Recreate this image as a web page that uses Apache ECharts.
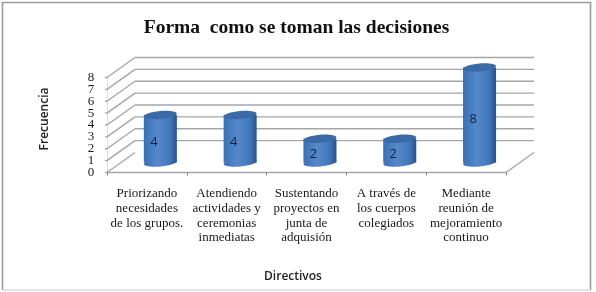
<!DOCTYPE html>
<html>
<head>
<meta charset="utf-8">
<style>html,body{margin:0;padding:0;background:#fff}#chart{width:596px;height:292px}</style>
<script src="https://cdn.jsdelivr.net/npm/echarts@6/dist/echarts.min.js"></script>
</head>
<body>
<div id="chart"></div>
<script>
const chartTitle = 'Forma  como se toman las decisiones';
const categories = [
  'Priorizando\nnecesidades\nde los grupos.',
  'Atendiendo\nactividades y\nceremonias\ninmediatas',
  'Sustentando\nproyectos en\njunta de\nadquisión',
  'A través de\nlos cuerpos\ncolegiados',
  'Mediante\nreunión de\nmejoramiento\ncontinuo'
];
const frequencies = [4, 4, 2, 2, 8];
const yTicks = [0, 1, 2, 3, 4, 5, 6, 7, 8];
const yAxisName = 'Frecuencia';
const xAxisName = 'Directivos';

// Pseudo-3D depth of the plot box, in pixels
const DEPTH_X = 28;
const DEPTH_Y = 20;
const GRID_COLOR = '#a6a6a6';

const chart = echarts.init(document.getElementById('chart'), null, { renderer: 'canvas' });

// One tick of the side and back walls, with its numeric label: the axis's own
// labels get thinned out at this spacing, so they are drawn here instead.
function renderWall(params, api) {
  const sys = params.coordSys;
  const value = api.value(0);
  const y = api.coord([0, value])[1];
  const x0 = sys.x, x1 = sys.x + sys.width;
  const line = (a, b, c, d) => ({
    type: 'line',
    shape: { x1: a, y1: b, x2: c, y2: d },
    style: { stroke: GRID_COLOR, lineWidth: 1.4 }
  });
  const children = [
    line(x0 - 2, y, x0, y),
    line(x0, y, x0 + DEPTH_X, y - DEPTH_Y),
    {
      type: 'text',
      style: {
        x: x0 - 16, y,
        text: String(value),
        fill: '#1a1a1a',
        font: '13px "Liberation Serif", serif',
        align: 'center', verticalAlign: 'middle'
      }
    }
  ];
  if (value > 0) {
    children.push(line(x0 + DEPTH_X, y - DEPTH_Y, x1 + DEPTH_X, y - DEPTH_Y));
  } else {
    children.push(line(x1, y, x1 + DEPTH_X, y - DEPTH_Y));
  }
  return { type: 'group', children };
}

function renderCylinder(params, api) {
  const top = api.coord([api.value(0), api.value(1)]);
  const base = api.coord([api.value(0), 0]);
  const mid = api.coord([api.value(0), api.value(1) / 2]);
  const halfW = api.size([1, 0])[0] * 0.207;
  const cx = top[0] + DEPTH_X * 0.48;
  const topY = top[1] - DEPTH_Y * 0.5;
  const baseY = base[1] - DEPTH_Y * 0.5;
  const ry = 4;
  const tilt = 0.09;
  const ellipse = (cy, fill) => ({
    type: 'ellipse',
    shape: { cx, cy, rx: halfW, ry },
    originX: cx, originY: cy, rotation: tilt,
    style: { fill }
  });
  const side = new echarts.graphic.LinearGradient(0, 0, 1, 0, [
    { offset: 0, color: '#3a70b4' },
    { offset: 0.4, color: '#5488cb' },
    { offset: 0.78, color: '#4278bb' },
    { offset: 1, color: '#27528a' }
  ]);
  return {
    type: 'group',
    children: [
      ellipse(baseY, side),
      {
        type: 'rect',
        shape: { x: cx - halfW, y: topY, width: halfW * 2, height: baseY - topY },
        style: { fill: side }
      },
      ellipse(topY, '#3a6ba6'),
      {
        type: 'text',
        style: {
          x: top[0] + 7, y: mid[1] - 6,
          text: String(api.value(1)),
          fill: '#14233a',
          font: '13px "Open Sans", sans-serif',
          align: 'center', verticalAlign: 'middle'
        }
      }
    ]
  };
}

chart.setOption({
  animation: false,
  backgroundColor: '#ffffff',
  title: {
    text: chartTitle,
    left: 291.5, top: 13, textAlign: 'center',
    textStyle: { fontFamily: '"Liberation Serif"', fontWeight: 'bold', fontSize: 19.5, color: '#111' }
  },
  graphic: [{
    type: 'polyline',
    shape: { points: [[2.5, 290], [2.5, 2.5], [590.5, 2.5], [590.5, 290]] },
    style: { fill: 'none', stroke: '#9c9c9c', lineWidth: 1.6 },
    silent: true
  }, {
    type: 'line',
    shape: { x1: 2.5, y1: 290, x2: 590.5, y2: 290 },
    style: { stroke: '#dcdcdc', lineWidth: 1.5 },
    silent: true
  }, {
    type: 'text',
    style: {
      x: 45, y: 119, text: yAxisName, fill: '#222',
      font: '600 12px "Open Sans", sans-serif', align: 'center', verticalAlign: 'middle'
    },
    rotation: Math.PI / 2, originX: 45, originY: 119
  }, {
    type: 'text',
    style: {
      x: 293, y: 277, text: xAxisName, fill: '#222',
      font: '600 12px "Open Sans", sans-serif', align: 'center', verticalAlign: 'middle'
    }
  }],
  grid: { left: 107, top: 77.5, width: 399, height: 95 },
  xAxis: {
    type: 'category',
    data: categories,
    axisLine: { lineStyle: { color: GRID_COLOR, width: 1.4 } },
    axisTick: { show: true, length: 3, lineStyle: { color: '#808080' } },
    axisLabel: {
      interval: 0, margin: 14,
      fontFamily: '"Liberation Serif"', fontSize: 13, lineHeight: 14.7, color: '#1a1a1a'
    }
  },
  yAxis: {
    type: 'value', min: 0, max: 8, interval: 1,
    axisLine: { show: true, lineStyle: { color: '#dedede', width: 1 } },
    axisTick: { show: false },
    splitLine: { show: false },
    axisLabel: { show: false }
  },
  series: [{
    type: 'custom',
    renderItem: renderWall,
    data: yTicks.map(v => [v]),
    encode: { y: 0 },
    silent: true,
    z: 1
  }, {
    type: 'custom',
    renderItem: renderCylinder,
    data: frequencies.map((v, i) => [i, v]),
    encode: { x: 0, y: 1 },
    silent: true,
    z: 2
  }]
});
</script>
</body>
</html>
